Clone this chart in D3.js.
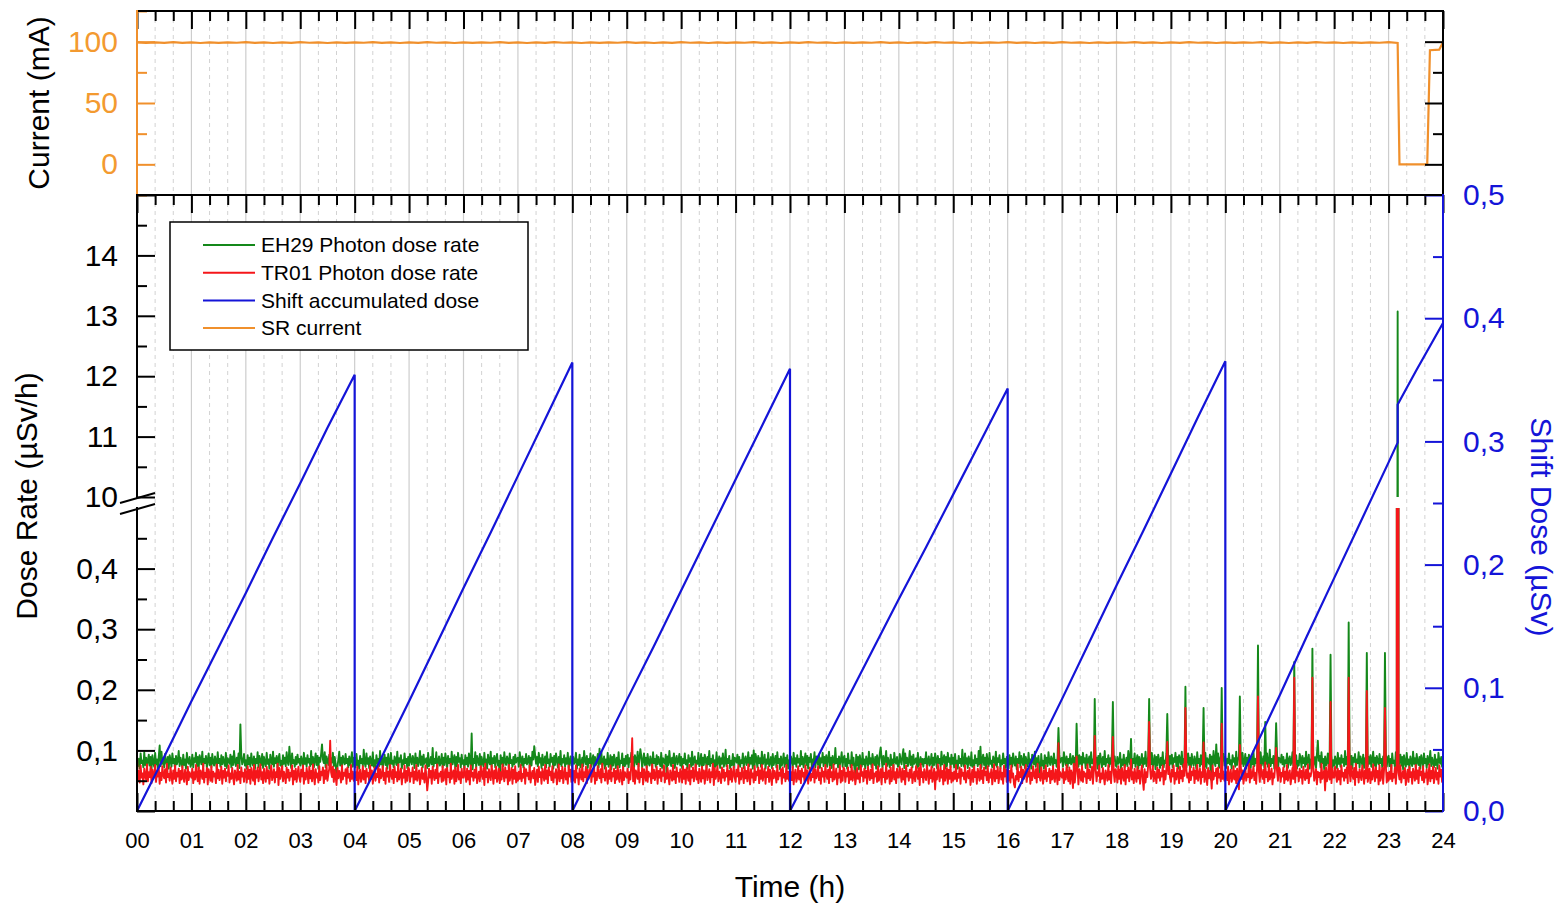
<!DOCTYPE html>
<html>
<head>
<meta charset="utf-8">
<script src="https://cdn.jsdelivr.net/npm/d3@7"></script>
<style>
  body { margin: 0; background: #fff; }
  svg { font-family: "Liberation Sans", Arial, sans-serif; background: #fff; }
  .grid-major { stroke: #cdcdcd; stroke-width: 1.2px; }
  .grid-minor { stroke: #d2d2d2; stroke-width: 1px; stroke-dasharray: 4,4; }
</style>
</head>
<body>
<div id="chart"></div>
<script>

// time axis (hours)

var hourTicks = d3.range(0, 25);
var minorHourTicks = d3.range(0, 72).map(function(i) { return i / 3; }).filter(function(d, i) { return i % 3 != 0; });

// photon dose rates, 1-minute samples from 00:00 to 24:00, in nSv/h (one row per hour)

var eh29Rate = [
  91,74,86,70,95,79,83,72,97,76,88,71,84,93,75,89,69,92,80,73,96,77,85,70,90,108,74,98,78,87,72,94,81,76,89,70,92,84,73,95,79,86,71,91,77,83,99,74,88,80,72,93,76,85,70,96,82,78,89,73,
  78,93,72,87,81,96,74,89,70,92,85,77,98,73,86,79,91,71,84,95,76,88,72,94,80,75,90,83,70,97,79,86,73,92,77,89,81,74,96,71,87,84,78,93,72,90,76,99,82,74,88,79,95,71,143,91,77,83,94,75,
  84,70,92,77,88,73,95,81,75,90,69,86,79,97,72,91,83,76,94,71,89,80,74,96,78,85,70,93,82,77,98,73,87,79,91,72,86,94,75,83,70,92,78,88,74,97,81,76,106,85,71,95,79,84,73,89,77,93,80,86,
  75,90,83,71,96,78,87,73,92,80,86,74,99,77,89,72,84,95,76,91,70,88,81,94,110,85,79,97,72,90,83,76,93,71,87,80,96,74,89,78,52,73,85,98,75,88,71,91,82,77,94,79,86,72,90,76,84,97,73,88,
  88,72,94,76,83,70,91,79,86,74,101,80,73,95,78,87,71,90,82,75,97,73,84,70,92,79,86,74,99,77,89,71,85,93,76,88,70,94,80,74,96,78,83,72,90,85,76,98,73,87,81,92,70,84,77,95,79,86,71,89,
  75,94,83,77,91,85,71,95,79,88,74,82,99,76,90,72,93,78,84,87,71,96,74,81,89,77,104,73,86,79,97,70,83,90,75,80,94,72,88,76,95,84,71,91,79,86,73,98,77,85,92,70,89,74,96,81,87,72,93,78,
  84,70,92,77,88,73,95,81,75,128,69,86,79,97,72,91,83,76,94,71,89,80,74,96,78,85,70,93,82,77,98,73,87,79,91,72,86,94,75,83,50,92,78,88,74,97,81,76,90,85,71,95,79,84,73,89,77,93,80,86,
  88,73,97,84,76,90,72,86,79,94,77,82,91,71,88,75,98,85,107,92,78,89,74,96,80,87,71,93,76,83,90,72,97,79,85,73,94,81,88,70,91,76,95,84,72,89,77,99,74,86,80,92,73,87,78,96,71,83,90,75,
  73,89,78,82,96,70,85,76,93,72,80,88,74,99,83,77,91,71,86,79,95,73,84,92,70,89,76,81,94,72,103,78,98,74,82,90,70,85,77,96,73,80,92,69,89,75,93,84,71,88,76,97,72,83,79,95,70,86,74,91,
  78,93,72,87,81,96,74,89,70,92,85,77,98,73,86,102,91,71,84,95,76,88,72,94,80,75,90,83,70,97,79,86,73,92,77,89,81,74,96,71,87,84,78,93,55,90,76,99,82,74,88,79,95,71,85,91,77,83,94,75,
  89,71,86,79,95,77,84,70,92,81,87,73,98,76,85,90,72,83,78,96,74,80,94,70,88,76,93,85,71,89,77,99,74,86,79,92,70,84,73,97,75,82,90,71,87,78,95,73,80,101,74,86,79,91,70,83,76,94,72,88,
  86,80,93,77,89,73,84,79,95,71,85,90,76,81,97,74,88,78,92,70,100,75,94,86,72,91,79,87,73,98,77,82,93,70,85,78,96,74,80,89,71,94,76,83,91,72,97,79,86,69,90,75,81,95,73,88,77,92,70,84,
  75,90,83,71,96,78,87,73,92,80,86,74,99,77,89,72,84,95,76,91,70,88,81,94,73,85,79,97,72,90,83,76,93,71,87,80,96,74,89,78,92,73,85,98,75,88,71,91,82,77,104,79,86,72,90,76,84,97,73,88,
  91,74,86,70,95,79,83,72,97,76,88,71,52,93,75,89,69,92,80,73,96,77,85,70,90,82,74,98,78,87,72,94,81,76,89,70,92,84,73,95,105,86,71,91,77,83,99,74,88,80,72,93,76,85,70,96,82,78,89,73,
  75,94,83,77,91,102,71,95,79,88,74,82,99,76,90,72,93,78,84,87,71,96,74,81,89,77,86,73,86,79,97,70,83,90,75,80,94,72,88,76,95,84,71,91,79,86,73,98,77,85,92,70,89,74,96,81,87,72,93,78,
  88,72,94,76,83,70,91,79,86,74,101,80,73,95,78,87,71,90,82,75,97,73,84,70,92,79,86,74,99,77,106,71,85,93,76,88,70,94,80,74,96,78,83,72,90,85,76,98,73,87,81,92,70,84,77,95,79,86,71,89,
  84,70,92,77,88,73,95,81,75,90,69,86,79,97,72,91,83,76,94,71,89,80,74,96,78,85,70,93,82,77,98,73,87,79,91,72,54,94,75,83,70,92,78,88,74,97,81,76,90,85,71,95,79,84,73,89,77,93,80,86,
  88,73,97,84,76,90,72,86,79,94,77,82,91,71,88,75,98,85,73,92,78,89,74,96,80,87,71,93,76,83,90,72,97,79,85,73,94,81,88,70,91,76,95,84,72,89,77,99,74,86,80,92,73,87,78,96,71,83,90,75,
  73,89,78,82,96,70,85,76,93,72,80,88,74,99,83,77,91,71,86,79,95,73,84,92,70,89,76,81,94,72,87,78,98,74,82,90,70,85,77,96,73,80,92,69,89,75,93,84,71,88,76,97,72,83,79,95,70,86,74,91,
  78,93,72,87,81,96,74,89,70,92,85,77,98,73,86,79,91,71,84,95,76,88,72,94,80,75,90,83,70,97,79,86,73,92,77,89,81,74,96,71,87,84,78,93,52,90,76,99,82,74,88,79,95,71,85,91,77,83,94,75,
  89,71,86,79,95,77,84,70,92,81,87,73,98,76,85,90,72,83,78,96,74,80,94,70,88,76,93,85,71,89,77,99,74,86,79,92,70,84,73,97,75,82,90,71,87,78,95,73,80,101,74,86,79,91,70,83,76,94,72,88,
  86,80,93,77,89,73,84,79,95,71,85,90,76,81,97,74,88,78,92,70,83,75,94,86,72,91,79,87,73,98,77,82,93,70,85,78,96,74,80,89,71,94,76,83,91,72,97,79,86,69,90,75,81,95,73,88,77,92,70,84,
  75,90,83,71,96,78,87,73,92,80,86,74,99,77,89,72,84,95,76,91,70,88,81,94,73,85,79,97,72,90,83,76,93,71,87,80,96,74,89,78,92,73,85,98,75,88,71,91,82,77,94,79,86,72,90,76,84,97,73,88,
  91,74,86,70,95,79,83,72,97,76,88,71,84,93,75,89,69,92,80,73,96,77,85,70,90,82,74,98,78,87,72,94,81,76,89,70,92,84,73,95,79,86,71,91,77,83,99,74,88,80,72,93,76,85,70,96,82,78,89,73,
  80
];

var tr01Rate = [
  92,50,66,47,75,55,62,44,70,58,52,77,49,64,56,73,46,68,53,60,76,48,65,57,71,45,63,51,74,59,54,69,47,78,56,61,50,72,58,45,67,53,75,49,63,57,70,46,66,52,74,55,48,68,60,44,73,51,64,58,
  55,70,46,64,52,76,58,49,72,45,67,61,53,78,47,63,56,71,44,69,59,50,74,48,65,57,62,46,77,54,68,51,60,73,45,66,55,70,49,64,58,75,47,62,53,71,56,44,67,60,50,76,52,65,46,72,57,63,48,69,
  63,47,74,53,68,45,71,58,50,76,44,66,55,72,49,61,77,52,64,46,70,57,48,73,54,67,45,62,75,51,59,69,47,64,56,78,43,71,53,60,74,49,65,58,46,72,55,68,50,63,57,75,44,66,52,70,48,61,73,55,
  48,68,57,75,45,63,52,71,60,46,73,54,66,49,77,58,44,69,55,62,47,74,51,65,59,72,46,67,53,76,50,61,70,116,64,56,73,48,68,57,43,71,54,66,60,47,75,52,63,58,69,45,72,55,61,49,76,53,65,50,
  58,64,51,73,44,60,68,48,55,74,52,66,46,70,57,63,49,75,53,67,45,58,72,50,61,56,78,47,69,54,59,74,51,63,45,71,57,65,48,76,60,53,68,46,73,56,64,49,77,52,58,70,44,62,55,75,47,66,50,72,
  69,48,63,57,72,46,65,52,76,50,60,67,44,56,71,53,62,47,75,58,34,49,70,55,66,45,73,60,51,68,54,77,46,62,57,65,48,74,50,59,69,44,71,56,63,47,78,53,61,67,45,72,49,58,76,52,64,46,70,55,
  55,73,61,48,70,52,66,44,75,57,63,50,68,55,72,46,58,65,49,74,60,53,71,43,78,56,64,47,69,59,51,75,62,45,67,54,73,48,57,70,46,64,52,77,61,49,72,55,66,44,76,50,58,71,45,68,53,74,47,63,
  50,65,53,76,49,61,55,72,45,69,58,63,52,75,47,60,66,54,71,43,57,68,48,73,56,64,45,70,61,50,76,53,67,46,72,59,65,51,74,47,62,55,69,44,58,77,49,66,54,73,46,60,71,52,63,45,75,57,68,48,
  72,50,66,47,75,55,62,44,70,58,52,77,49,64,56,73,46,68,53,60,76,48,65,57,71,45,63,51,74,59,54,69,47,78,56,61,50,72,58,45,67,53,75,49,63,57,70,46,66,52,74,55,48,68,60,44,73,51,64,58,
  55,70,46,64,52,76,120,49,72,45,67,61,53,78,47,63,56,71,44,69,59,50,74,48,65,57,62,46,77,54,68,51,60,73,45,66,55,70,49,64,58,75,47,62,53,71,56,44,67,60,50,76,52,65,46,72,57,63,48,69,
  63,47,74,53,68,45,71,58,50,76,44,66,55,72,49,61,77,52,64,46,70,57,48,73,54,67,45,62,75,51,59,69,47,64,56,78,43,71,53,60,74,49,65,58,46,72,55,68,50,63,57,75,44,66,52,70,48,61,73,55,
  48,68,57,75,45,63,52,71,60,46,73,54,66,49,77,58,44,69,55,62,47,74,51,65,59,72,46,67,53,76,50,61,70,45,64,56,73,48,68,57,43,71,54,66,60,47,75,52,63,58,69,45,72,55,61,49,76,53,65,50,
  58,64,51,73,44,60,68,48,55,74,52,66,46,70,57,63,49,75,53,67,45,58,72,50,61,56,78,47,69,54,59,74,51,63,45,71,57,65,48,76,60,53,68,46,73,56,64,49,77,52,58,70,44,62,55,75,47,66,50,72,
  69,48,63,57,72,46,65,52,76,50,60,67,44,56,71,53,62,47,75,58,64,49,70,55,66,45,73,60,51,68,54,77,46,62,57,65,48,74,50,59,69,44,71,56,63,47,78,53,61,67,45,72,49,58,76,52,64,46,70,55,
  55,73,61,48,70,52,66,44,75,57,63,50,68,55,72,46,58,65,49,74,60,53,71,43,78,56,64,47,69,59,51,75,62,45,67,54,73,48,57,70,36,64,52,77,61,49,72,55,66,44,76,50,58,71,45,68,53,74,47,63,
  50,65,53,76,49,61,55,72,45,69,58,63,52,75,47,60,66,54,71,43,57,68,48,73,56,64,45,70,61,50,76,53,67,46,72,59,65,51,74,47,62,55,69,44,58,77,49,66,54,73,46,60,71,52,63,45,75,57,68,48,
  72,50,66,47,75,55,62,44,39,58,52,77,49,64,56,73,46,68,53,60,76,48,65,57,71,45,63,51,74,59,54,69,47,78,56,61,50,72,58,45,67,53,75,49,63,57,70,46,66,52,74,55,48,68,60,44,73,51,64,58,
  55,70,46,64,52,76,58,49,72,45,67,61,38,78,47,63,56,71,44,69,59,50,74,48,65,57,62,46,77,54,68,51,60,73,45,66,55,70,49,64,58,75,47,62,53,71,56,44,67,60,50,76,52,65,46,72,57,63,48,69,
  63,47,74,53,68,45,71,58,50,76,44,66,55,72,49,61,77,52,64,46,70,57,48,73,54,67,45,62,75,51,35,69,47,64,56,78,43,71,53,60,74,49,65,58,46,72,55,68,50,63,57,75,44,66,52,70,48,61,73,55,
  48,68,57,75,45,63,52,71,60,46,73,54,66,49,77,58,44,69,55,62,47,74,51,65,59,72,46,67,53,76,50,61,70,45,64,56,73,48,68,57,43,71,54,66,60,37,75,52,63,58,69,45,72,55,61,49,76,53,65,50,
  58,64,51,73,44,60,68,48,55,74,52,66,46,70,57,36,49,75,53,67,45,58,72,50,61,56,78,47,69,54,59,74,51,63,45,71,57,65,48,76,60,53,68,46,73,56,64,49,77,52,58,70,44,62,55,75,47,66,50,72,
  69,48,63,57,72,46,65,52,76,50,60,67,44,56,71,53,62,47,75,58,64,49,70,55,66,45,73,60,51,68,54,77,46,62,57,65,48,74,50,59,69,44,71,56,63,47,78,53,61,67,34,72,49,58,76,52,64,46,70,55,
  55,73,61,48,70,52,66,44,75,57,63,50,68,55,72,46,58,65,49,74,60,53,71,43,78,56,64,47,69,59,51,75,62,45,67,54,73,48,57,70,46,64,52,77,61,49,72,55,66,44,76,50,58,71,45,68,53,74,47,63,
  50,65,53,76,49,61,55,72,45,69,58,63,52,75,47,60,66,54,71,43,57,68,48,73,56,64,45,70,61,50,76,53,67,46,72,59,65,51,74,47,62,55,69,44,58,77,49,66,54,73,46,60,71,52,63,45,75,57,68,48,
  60
];

// injection peaks seen by both monitors (hour, EH29 nSv/h, TR01 nSv/h)

var spikeHours = [16.933, 17.267, 17.6, 17.933, 18.267, 18.6, 18.933, 19.267, 19.6, 19.833, 19.933,
                  20.267, 20.6, 20.733, 20.933, 21.267, 21.6, 21.7, 21.933, 22.267, 22.6, 22.933, 23.167];
var eh29Spikes = [137, 144, 185, 180, 119, 185, 160, 205, 170, 110, 203,
                  189, 273, 147, 145, 246, 268, 116, 258, 311, 261, 261, 13070];
var tr01Spikes = [112, 90, 124, 122, 85, 147, 114, 170, 113, 70, 144,
                  109, 189, 80, 104, 220, 220, 65, 180, 220, 198, 170, 9200];

// shift accumulated dose (µSv), reset every 4 h

var shiftHours = [0, 0.5, 1, 1.5, 2, 2.5, 3, 3.5, 4,
                  4, 4.5, 5, 5.5, 6, 6.5, 7, 7.5, 8,
                  8, 8.5, 9, 9.5, 10, 10.5, 11, 11.5, 12,
                  12, 12.5, 13, 13.5, 14, 14.5, 15, 15.5, 16,
                  16, 16.5, 17, 17.5, 18, 18.5, 19, 19.5, 20,
                  20, 20.5, 21, 21.5, 22, 22.5, 23, 23.167, 23.167, 23.5, 24];
var shiftDose = [0, 0.044, 0.089, 0.133, 0.177, 0.222, 0.266, 0.311, 0.354,
                 0, 0.044, 0.089, 0.135, 0.181, 0.226, 0.272, 0.318, 0.364,
                 0, 0.045, 0.090, 0.134, 0.179, 0.224, 0.269, 0.314, 0.359,
                 0, 0.043, 0.086, 0.129, 0.172, 0.214, 0.257, 0.300, 0.343,
                 0, 0.046, 0.091, 0.137, 0.183, 0.228, 0.274, 0.320, 0.365,
                 0, 0.047, 0.094, 0.142, 0.189, 0.236, 0.283, 0.299, 0.330, 0.357, 0.396];

// storage ring current (mA), 10-minute samples from 00:00, then the beam loss

var srCurrent = [
  99.4,98.9,99.5,99.0,99.6,99.0,99.5,98.9,99.4,99.0,
  99.5,99.1,99.6,99.0,99.4,98.9,99.5,99.0,99.6,99.1,
  99.4,98.9,99.5,99.0,99.5,99.1,99.6,99.0,99.4,98.9,
  99.5,99.0,99.6,99.1,99.4,98.9,99.5,99.0,99.5,99.1,
  99.6,99.0,99.4,98.9,99.5,99.0,99.6,99.1,99.4,98.9,
  99.5,99.0,99.5,99.1,99.6,99.0,99.4,98.9,99.5,99.0,
  99.6,99.1,99.4,98.9,99.5,99.0,99.5,99.1,99.6,99.0,
  99.4,98.9,99.5,99.0,99.6,99.1,99.4,98.9,99.5,99.0,
  99.5,99.1,99.6,99.0,99.4,98.9,99.5,99.0,99.6,99.1,
  99.4,98.9,99.5,99.0,99.5,99.1,99.6,99.0,99.4,98.9,
  99.5,99.0,99.6,99.1,99.4,98.9,99.5,99.0,99.5,99.1,
  99.6,99.0,99.4,98.9,99.5,99.0,99.6,99.1,99.4,98.9,
  99.5,99.0,99.5,99.1,99.6,99.0,99.4,98.9,99.5,99.0,
  99.6,99.1,99.4,98.9,99.5,99.0,99.5,99.1,99.6,99.0
];
var currentTailHours = [23.2, 23.71, 23.76, 23.93, 24];
var currentTailValues = [0, 0, 93, 93.5, 99.5];

// legend

var legendNames = ["EH29 Photon dose rate", "TR01 Photon dose rate", "Shift accumulated dose", "SR current"];


function doseChart() {

  // default values that can be changed by the caller

  var width = 1566,
      height = 905,
      plotLeft = 137,
      plotRight = 1443,
      curTop = 11,
      curBottom = 195,
      doseTop = 195,
      hiBottom = 497,
      loTop = 508,
      doseBottom = 811,
      chart_id = "chart";

  var green = "#14881a",
      red = "#f5161a",
      blue = "#1414d8",
      orange = "#f0902c",
      orangeText = "#f39a30";

  function chart() {

    // number formats

    var comma = d3.formatLocale({ decimal: ",", thousands: ".", grouping: [3], currency: ["", ""] }),
        formatDec = comma.format(".1f"),
        formatHour = d3.format("02d");

    // scales

    var x = d3.scaleLinear().domain([0, 24]).range([plotLeft, plotRight]);
    var yCur = d3.scaleLinear().domain([-25, 125]).range([curBottom, curTop]);
    var yHi = d3.scaleLinear().domain([10, 15]).range([hiBottom, doseTop]);
    var yLo = d3.scaleLinear().domain([0, 0.5]).range([doseBottom, loTop]);
    var yDose = d3.scaleLinear().domain([0, 0.5]).range([doseBottom, doseTop]);

    // build the series

    function buildRate(base, spikes) {
      var n = base.length;
      var pts = base.map(function(v, i) { return { t: i * 24 / (n - 1), v: v / 1000 }; });
      spikeHours.forEach(function(h, k) {
        pts[Math.round(h / 24 * (n - 1))].v = spikes[k] / 1000;
      });
      return pts;
    }

    var eh29 = buildRate(eh29Rate, eh29Spikes),
        tr01 = buildRate(tr01Rate, tr01Spikes);

    var dose = shiftHours.map(function(t, i) { return { t: t, v: shiftDose[i] }; });

    var current = srCurrent.map(function(v, i) { return { t: i / 6, v: v }; })
      .concat(currentTailHours.map(function(t, i) { return { t: t, v: currentTailValues[i] }; }));

    // append svg

    var svg = d3.select("#" + chart_id).append("svg")
      .attr("width", width)
      .attr("height", height);

    // clip regions for the panels and the broken axis

    var defs = svg.append("defs");

    function addClip(id, y0, y1) {
      defs.append("clipPath").attr("id", id)
        .append("rect")
          .attr("x", plotLeft)
          .attr("y", y0)
          .attr("width", plotRight - plotLeft)
          .attr("height", y1 - y0);
    }

    addClip("clip-cur", curTop, curBottom);
    addClip("clip-hi", doseTop, hiBottom);
    addClip("clip-lo", loTop, doseBottom);
    addClip("clip-dose", doseTop, doseBottom);

    // vertical gridlines

    svg.append("g").selectAll("line")
      .data(minorHourTicks)
      .enter()
        .append("line")
          .attr("class", "grid-minor")
          .attr("x1", x).attr("x2", x)
          .attr("y1", curTop).attr("y2", doseBottom);

    svg.append("g").selectAll("line")
      .data(hourTicks.slice(1, 24))
      .enter()
        .append("line")
          .attr("class", "grid-major")
          .attr("x1", x).attr("x2", x)
          .attr("y1", curTop).attr("y2", doseBottom);

    // dose rate lines, drawn once per axis segment

    function rateLine(yScale) {
      return d3.line()
        .x(function(d) { return x(d.t); })
        .y(function(d) { return yScale(d.v); });
    }

    [[eh29, green], [tr01, red]].forEach(function(s) {
      [["clip-hi", yHi], ["clip-lo", yLo]].forEach(function(seg) {
        svg.append("path")
          .datum(s[0])
          .attr("clip-path", "url(#" + seg[0] + ")")
          .attr("fill", "none")
          .attr("stroke", s[1])
          .attr("stroke-width", 1.9)
          .attr("stroke-linejoin", "round")
          .attr("d", rateLine(seg[1]));
      });
    });

    // shift dose

    svg.append("path")
      .datum(dose)
      .attr("clip-path", "url(#clip-dose)")
      .attr("fill", "none")
      .attr("stroke", blue)
      .attr("stroke-width", 2.2)
      .attr("d", rateLine(yDose));

    // ring current

    svg.append("path")
      .datum(current)
      .attr("clip-path", "url(#clip-cur)")
      .attr("fill", "none")
      .attr("stroke", orange)
      .attr("stroke-width", 2.2)
      .attr("d", rateLine(yCur));

    // axes

    function drawAxis(axis, tx, ty, color, fontSize) {
      var g = svg.append("g")
        .attr("transform", "translate(" + tx + "," + ty + ")")
        .call(axis);
      g.attr("font-family", null).attr("font-size", fontSize || null);
      g.select(".domain").remove();
      g.selectAll(".tick line").attr("stroke", color).attr("stroke-width", 2);
      g.selectAll(".tick text").attr("fill", color);
      return g;
    }

    var major = 18, minor = 10, tickFont = 30;

    // time ticks on the top edges and the bottom edge

    [curTop, doseTop].forEach(function(yy) {
      drawAxis(d3.axisTop(x).tickValues(hourTicks).tickSizeInner(-major).tickSizeOuter(0).tickFormat(""), 0, yy, "#000");
      drawAxis(d3.axisTop(x).tickValues(minorHourTicks).tickSizeInner(-minor).tickSizeOuter(0).tickFormat(""), 0, yy, "#000");
    });

    drawAxis(d3.axisBottom(x).tickValues(hourTicks).tickSizeInner(-major).tickSizeOuter(0).tickPadding(21).tickFormat(formatHour), 0, doseBottom, "#000", 22);
    drawAxis(d3.axisBottom(x).tickValues(minorHourTicks).tickSizeInner(-minor).tickSizeOuter(0).tickFormat(""), 0, doseBottom, "#000");

    // current axis

    drawAxis(d3.axisLeft(yCur).tickValues([0, 50, 100]).tickSizeInner(-major).tickSizeOuter(0).tickPadding(19), plotLeft, 0, orange, tickFont)
      .selectAll(".tick text").attr("fill", orangeText);
    drawAxis(d3.axisLeft(yCur).tickValues([-25, 25, 75, 125]).tickSizeInner(-minor).tickSizeOuter(0).tickFormat(""), plotLeft, 0, orange);
    drawAxis(d3.axisRight(yCur).tickValues([0, 50, 100]).tickSizeInner(-major).tickSizeOuter(0).tickFormat(""), plotRight, 0, "#000");
    drawAxis(d3.axisRight(yCur).tickValues([25, 75]).tickSizeInner(-minor).tickSizeOuter(0).tickFormat(""), plotRight, 0, "#000");

    // broken dose rate axis

    drawAxis(d3.axisLeft(yHi).tickValues([10, 11, 12, 13, 14, 15]).tickSizeInner(-major).tickSizeOuter(0).tickPadding(19)
      .tickFormat(function(d) { return d == 15 ? "" : d; }), plotLeft, 0, "#000", tickFont);
    drawAxis(d3.axisLeft(yHi).tickValues([10.5, 11.5, 12.5, 13.5, 14.5]).tickSizeInner(-minor).tickSizeOuter(0).tickFormat(""), plotLeft, 0, "#000");
    drawAxis(d3.axisLeft(yLo).tickValues([0, 0.1, 0.2, 0.3, 0.4]).tickSizeInner(-major).tickSizeOuter(0).tickPadding(19)
      .tickFormat(function(d) { return d == 0 ? "" : formatDec(d); }), plotLeft, 0, "#000", tickFont);
    drawAxis(d3.axisLeft(yLo).tickValues([0.05, 0.15, 0.25, 0.35, 0.45]).tickSizeInner(-minor).tickSizeOuter(0).tickFormat(""), plotLeft, 0, "#000");

    // shift dose axis

    drawAxis(d3.axisRight(yDose).tickValues([0, 0.1, 0.2, 0.3, 0.4, 0.5]).tickSizeInner(-major).tickSizeOuter(0).tickPadding(20)
      .tickFormat(formatDec), plotRight, 0, blue, tickFont);
    drawAxis(d3.axisRight(yDose).tickValues([0.05, 0.15, 0.25, 0.35, 0.45]).tickSizeInner(-minor).tickSizeOuter(0).tickFormat(""), plotRight, 0, blue);

    // frame

    var frame = [
      [x(0), yCur(125), x(24), yCur(125), "#000"],
      [x(0), yDose(0.5), x(24), yDose(0.5), "#000"],
      [x(0), yDose(0), x(24), yDose(0), "#000"],
      [x(0), yCur(125), x(0), yCur(-25), orange],
      [x(24), yCur(125), x(24), yCur(-25), "#000"],
      [x(0), yHi(15), x(0), yHi(10), "#000"],
      [x(0), yLo(0.5), x(0), yLo(0), "#000"],
      [x(24), yDose(0.5), x(24), yDose(0), blue]
    ];

    svg.append("g").selectAll("line")
      .data(frame)
      .enter()
        .append("line")
          .attr("x1", function(d) { return d[0]; })
          .attr("y1", function(d) { return d[1]; })
          .attr("x2", function(d) { return d[2]; })
          .attr("y2", function(d) { return d[3]; })
          .attr("stroke", function(d) { return d[4]; })
          .attr("stroke-width", 2)
          .attr("stroke-linecap", "square");

    // axis break marks

    var breakY = [(hiBottom + 1), (loTop + 1)];

    svg.append("g").selectAll("line")
      .data(breakY)
      .enter()
        .append("line")
          .attr("x1", plotLeft - 17)
          .attr("y1", function(d) { return d + 5; })
          .attr("x2", plotLeft + 18)
          .attr("y2", function(d) { return d - 5; })
          .attr("stroke", "#000")
          .attr("stroke-width", 2);

    // axis titles

    svg.append("text")
      .attr("transform", "translate(49," + ((curTop + curBottom) / 2) + ") rotate(-90)")
      .attr("text-anchor", "middle")
      .attr("font-size", 30)
      .text("Current (mA)");

    svg.append("text")
      .attr("transform", "translate(37,496) rotate(-90)")
      .attr("text-anchor", "middle")
      .attr("font-size", 30)
      .text("Dose Rate (µSv/h)");

    svg.append("text")
      .attr("transform", "translate(1531,527) rotate(90)")
      .attr("text-anchor", "middle")
      .attr("font-size", 30)
      .attr("fill", blue)
      .text("Shift Dose (µSv)");

    svg.append("text")
      .attr("x", (plotLeft + plotRight) / 2)
      .attr("y", 897)
      .attr("text-anchor", "middle")
      .attr("font-size", 30)
      .text("Time (h)");

    // legend

    var legendColors = [green, red, blue, orange];

    var legend = svg.append("g")
      .attr("transform", "translate(170,222)");

    legend.append("rect")
      .attr("width", 358)
      .attr("height", 128)
      .attr("fill", "#fff")
      .attr("stroke", "#000")
      .attr("stroke-width", 1.5);

    var item = legend.selectAll(".item")
      .data(legendNames)
      .enter()
        .append("g")
          .attr("class", "item")
          .attr("transform", function(d, i) { return "translate(0," + (23 + i * 27.7) + ")"; });

    item.append("line")
      .attr("x1", 33).attr("x2", 85)
      .attr("stroke", function(d, i) { return legendColors[i]; })
      .attr("stroke-width", 2);

    item.append("text")
      .attr("x", 91)
      .attr("dy", "0.35em")
      .attr("font-size", 21)
      .text(function(d) { return d; });

  };

  // these allow the default values to be changed

  chart.width = function(value) {
    if (!arguments.length) return width;
    width = value;
    return chart;
  };

  chart.height = function(value) {
    if (!arguments.length) return height;
    height = value;
    return chart;
  };

  chart.chart_id = function(value) {
    if (!arguments.length) return chart_id;
    chart_id = value;
    return chart;
  };

  return chart;

};

doseChart().chart_id("chart")();

</script>
</body>
</html>
